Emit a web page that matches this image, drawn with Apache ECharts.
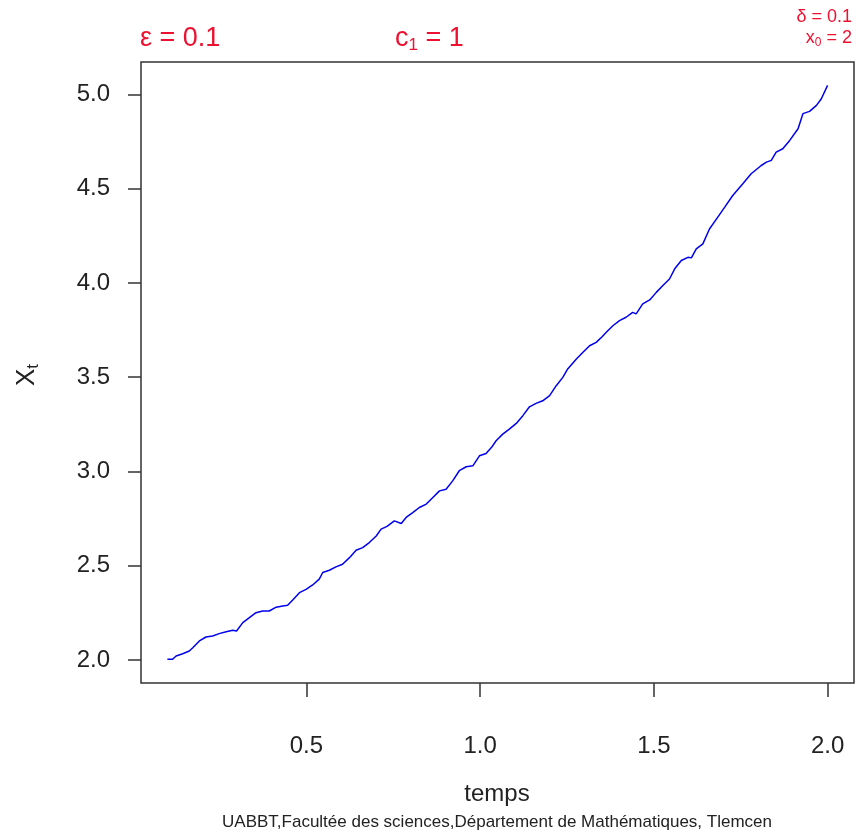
<!DOCTYPE html>
<html>
<head>
<meta charset="utf-8">
<script src="https://cdn.jsdelivr.net/npm/echarts@6/dist/echarts.min.js"></script>
<style>html,body{margin:0;padding:0;background:#fff}#c{width:857px;height:837px}</style>
</head>
<body>
<div id="c"></div>
<script>
const times = [0.100,0.115,0.125,0.144,0.163,0.173,0.192,0.211,0.230,0.249,0.269,0.288,0.299,0.317,0.336,0.355,0.374,0.393,0.413,0.432,0.446,0.460,0.480,0.499,0.518,0.537,0.547,0.566,0.585,0.604,0.624,0.643,0.662,0.681,0.701,0.715,0.732,0.753,0.773,0.787,0.806,0.825,0.845,0.864,0.883,0.902,0.921,0.940,0.960,0.979,0.998,1.017,1.033,1.046,1.065,1.084,1.104,1.123,1.142,1.161,1.180,1.200,1.219,1.238,1.252,1.277,1.296,1.315,1.334,1.351,1.363,1.382,1.401,1.420,1.439,1.449,1.468,1.488,1.507,1.526,1.545,1.560,1.579,1.598,1.608,1.622,1.641,1.660,1.682,1.704,1.727,1.756,1.780,1.809,1.824,1.838,1.852,1.871,1.891,1.915,1.929,1.948,1.968,1.982,2.000];
const xt = [2.004,2.004,2.021,2.033,2.048,2.065,2.101,2.122,2.127,2.140,2.150,2.158,2.154,2.198,2.225,2.251,2.260,2.260,2.280,2.287,2.290,2.317,2.357,2.375,2.398,2.429,2.464,2.476,2.494,2.508,2.543,2.582,2.596,2.623,2.658,2.694,2.709,2.738,2.724,2.756,2.782,2.809,2.827,2.862,2.897,2.906,2.950,3.004,3.025,3.030,3.083,3.095,3.128,3.163,3.198,3.225,3.255,3.296,3.343,3.361,3.375,3.402,3.455,3.499,3.544,3.597,3.632,3.667,3.685,3.715,3.738,3.773,3.800,3.818,3.844,3.836,3.889,3.910,3.950,3.986,4.021,4.075,4.119,4.136,4.133,4.181,4.207,4.286,4.344,4.402,4.464,4.526,4.579,4.623,4.641,4.650,4.694,4.712,4.756,4.818,4.898,4.910,4.942,4.977,5.048];
const xTicks = [0.5, 1.0, 1.5, 2.0];
const yTicks = [2.0, 2.5, 3.0, 3.5, 4.0, 4.5, 5.0];

const FONT = 'Liberation Sans, Arial, sans-serif';
const RED = '#ee1030';
const chart = echarts.init(document.getElementById('c'), null, {renderer: 'canvas'});
chart.setOption({
  animation: false,
  backgroundColor: '#fff',
  grid: {left: 141, right: 3, top: 62, bottom: 154, show: true, borderColor: '#333', borderWidth: 1.5, backgroundColor: 'transparent'},
  xAxis: {
    type: 'value', min: 0.024, max: 2.076,
    axisLine: {show: false},
    splitLine: {show: false},
    axisTick: {show: true, customValues: xTicks, length: 14, lineStyle: {color: '#333', width: 1.5}},
    axisLabel: {customValues: xTicks, formatter: v => v.toFixed(1), fontSize: 24, fontFamily: FONT, color: '#222', margin: 51}
  },
  yAxis: {
    type: 'value', min: 1.878, max: 5.172,
    axisLine: {show: false},
    splitLine: {show: false},
    axisTick: {show: true, customValues: yTicks, length: 13, lineStyle: {color: '#333', width: 1.5}},
    axisLabel: {customValues: yTicks, formatter: v => v.toFixed(1), fontSize: 24, fontFamily: FONT, color: '#222', margin: 31}
  },
  series: [{
    type: 'line', data: times.map((t, i) => [t, xt[i]]), showSymbol: false,
    lineStyle: {color: '#0000f0', width: 1.5}
  }],
  graphic: [
    {type: 'text', left: 140, top: 25, style: {text: 'ε = 0.1', font: '27px ' + FONT, fill: RED}},
    {type: 'text', left: 395, top: 25, style: {text: '{a|c}{s|1}{a| = 1}', rich: {a: {fontSize: 27, fontFamily: FONT, fill: RED}, s: {fontSize: 17, fontFamily: FONT, fill: RED, padding: [14, 0, 0, 0]}}}},
    {type: 'text', right: 5, top: 8, style: {text: 'δ = 0.1', font: '18px ' + FONT, fill: RED}},
    {type: 'text', right: 5, top: 29, style: {text: '{a|x}{s|0}{a| = 2}', rich: {a: {fontSize: 18, fontFamily: FONT, fill: RED}, s: {fontSize: 12, fontFamily: FONT, fill: RED, padding: [10, 0, 0, 0]}}}},
    {type: 'text', x: 497, y: 794, style: {text: 'temps', font: '24px ' + FONT, fill: '#222', align: 'center', verticalAlign: 'middle'}},
    {type: 'text', x: 497, y: 822, style: {text: 'UABBT,Facultée des sciences,Département de Mathématiques, Tlemcen', font: '17px "Liberation Sans Narrow", ' + FONT, fill: '#222', align: 'center', verticalAlign: 'middle'}},
    {type: 'text', x: 27, y: 375, rotation: Math.PI / 2, style: {text: '{a|X}{s|t}', rich: {a: {fontSize: 26, fontFamily: FONT, fill: '#222'}, s: {fontSize: 17, fontFamily: FONT, fill: '#222', padding: [12, 0, 0, 0]}}, align: 'center', verticalAlign: 'middle'}}
  ]
});
</script>
</body>
</html>
